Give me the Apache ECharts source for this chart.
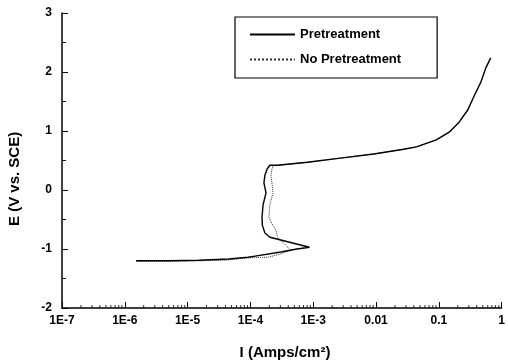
<!DOCTYPE html>
<html><head><meta charset="utf-8">
<script src="https://cdn.jsdelivr.net/npm/echarts@6/dist/echarts.min.js"></script>
<style>html,body{margin:0;padding:0;background:#fff}#c{width:508px;height:361px}</style>
</head><body><div id="c"></div>
<script>
// Current density I (A/cm2) and potential E (V vs. SCE)
const preI = [1.52e-6, 5e-6, 1.5e-5, 4.5e-5, 9.2e-5, 1.19e-4, 3.05e-4, 5.5e-4, 8.7e-4, 2.04e-4, 1.7e-4, 1.55e-4, 1.53e-4, 1.59e-4, 1.77e-4, 1.64e-4, 1.7e-4, 1.85e-4, 2.04e-4, 2.7e-4, 8.1e-4, 2.7e-3, 9.2e-3, 0.0275, 0.044, 0.091, 0.146, 0.21, 0.29, 0.36, 0.467, 0.56, 0.67];
const preE = [-1.20, -1.20, -1.19, -1.17, -1.14, -1.12, -1.05, -1.00, -0.97, -0.80, -0.73, -0.60, -0.46, -0.25, -0.05, 0.12, 0.25, 0.36, 0.42, 0.42, 0.47, 0.54, 0.61, 0.69, 0.73, 0.85, 0.98, 1.15, 1.36, 1.58, 1.83, 2.07, 2.24];
const noI = [1.52e-6, 5e-6, 1.5e-5, 4e-5, 9.2e-5, 1.9e-4, 2.9e-4, 4.4e-4, 3.5e-4, 2.7e-4, 2.54e-4, 2.2e-4, 1.97e-4, 2.04e-4, 2.29e-4, 2.2e-4, 2.12e-4, 2.2e-4, 2.29e-4, 2.8e-4, 8.1e-4, 2.7e-3, 9.2e-3, 0.0275, 0.044, 0.091, 0.146, 0.21, 0.29, 0.36, 0.467, 0.56, 0.67];
const noE = [-1.21, -1.21, -1.20, -1.19, -1.15, -1.14, -1.09, -1.02, -0.92, -0.80, -0.68, -0.57, -0.46, -0.25, -0.05, 0.12, 0.25, 0.35, 0.41, 0.42, 0.47, 0.54, 0.61, 0.69, 0.73, 0.85, 0.98, 1.15, 1.36, 1.58, 1.83, 2.07, 2.24];
const seriesNames = ['Pretreatment', 'No Pretreatment'];
const xTickLabels = ['1E-7', '1E-6', '1E-5', '1E-4', '1E-3', '0.01', '0.1', '1'];
const xTickExp = [-7, -6, -5, -4, -3, -2, -1, 0];
const yTickLabels = ['-2', '-1', '0', '1', '2', '3'];
const minorMult = [2, 3, 4, 5, 6, 7, 8, 9];

const FONT = "'Liberation Sans', Arial, sans-serif";
const minorTicks = [];
xTickExp.slice(0, -1).forEach(e => minorMult.forEach(m => minorTicks.push([m * Math.pow(10, e), -2])));

const chart = echarts.init(document.getElementById('c'), null, {renderer: 'canvas'});
chart.setOption({
  animation: false,
  backgroundColor: '#fff',
  grid: {left: 62, right: 2, top: 13, bottom: 53},
  legend: {
    orient: 'vertical', left: 235, top: 17,
    borderColor: '#000', borderWidth: 1.2,
    padding: [11, 36, 12, 14],
    itemWidth: 45, itemHeight: 14, itemGap: 12,
    itemStyle: {color: 'rgba(0,0,0,0)', borderWidth: 0},
    textStyle: {fontFamily: FONT, fontSize: 13, fontWeight: 'bold', color: '#000'},
    data: seriesNames
  },
  xAxis: {
    type: 'log', logBase: 10, min: 1e-7, max: 1,
    axisLine: {show: true, onZero: false, lineStyle: {color: '#000', width: 1.5}},
    axisTick: {show: true, inside: true, length: 6, lineStyle: {color: '#000', width: 1}},
    splitLine: {show: false},
    axisLabel: {
      show: true, margin: 7, color: '#000', fontFamily: FONT, fontSize: 12, fontWeight: 'bold',
      showMinLabel: true, showMaxLabel: true,
      formatter: function (v) {
        const e = Math.round(Math.log10(v));
        const i = xTickExp.indexOf(e);
        return i >= 0 ? xTickLabels[i] : '';
      }
    }
  },
  yAxis: {
    type: 'value', min: -2, max: 3, interval: 1,
    axisLine: {show: true, lineStyle: {color: '#000', width: 1.5}},
    axisTick: {show: true, inside: true, length: 6, lineStyle: {color: '#000', width: 1}},
    minorTick: {show: true, splitNumber: 2, length: 4, lineStyle: {color: '#000', width: 1}},
    splitLine: {show: false},
    axisLabel: {
      margin: 10, color: '#000', fontFamily: FONT, fontSize: 12, fontWeight: 'bold',
      formatter: function (v) { const i = Math.round(v) + 2; return yTickLabels[i] !== undefined ? yTickLabels[i] : ''; }
    }
  },
  graphic: [
    {type: 'text', x: 7, y: 226, rotation: Math.PI / 2, style: {text: 'E (V vs. SCE)', font: "bold 15px " + FONT, fill: '#000', textAlign: 'left', textVerticalAlign: 'top'}},
    {type: 'text', x: 285, y: 345, style: {text: 'I (Amps/cm²)', font: "bold 15px " + FONT, fill: '#000', textAlign: 'center', textVerticalAlign: 'top'}}
  ],
  series: [
    {
      name: seriesNames[0], type: 'line', symbol: 'none', z: 3,
      data: preI.map((x, i) => [x, preE[i]]),
      lineStyle: {color: '#000', width: 1.4, type: 'solid'}, itemStyle: {color: '#000'}
    },
    {
      name: seriesNames[1], type: 'line', symbol: 'none', z: 2,
      data: noI.map((x, i) => [x, noE[i]]),
      lineStyle: {color: '#333', width: 1, type: 'dotted'}, itemStyle: {color: '#333'}
    },
    {
      name: 'minor', type: 'scatter', silent: true, clip: false, z: 5,
      symbol: 'rect', symbolSize: [1, 3], symbolOffset: [0, -1.5],
      itemStyle: {color: '#000'}, data: minorTicks
    }
  ]
});
</script></body></html>
